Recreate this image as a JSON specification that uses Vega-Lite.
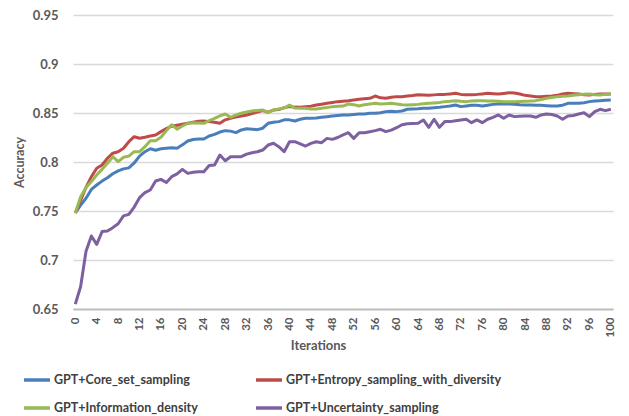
{
  "$schema": "https://vega.github.io/schema/vega-lite/v6.json",
  "autosize": {"type": "none"},
  "width": 540,
  "height": 294,
  "padding": {"left": 73, "top": 15, "right": 16, "bottom": 107},
  "background": "white",
  "config": {
    "view": {"stroke": null},
    "font": "Lato",
    "axis": {"labelFont": "Lato", "titleFont": "Lato", "labelColor": "#595959", "titleColor": "#595959", "labelFontWeight": "bold", "titleFontWeight": "bold"}
  },
  "data": {"values": [
{"it":0,"GPT+Core_set_sampling":0.748,"GPT+Entropy_sampling_with_diversity":0.748,"GPT+Information_density":0.748,"GPT+Uncertainty_sampling":0.655},
{"it":1,"GPT+Core_set_sampling":0.756,"GPT+Entropy_sampling_with_diversity":0.761,"GPT+Information_density":0.7646,"GPT+Uncertainty_sampling":0.673},
{"it":2,"GPT+Core_set_sampling":0.763,"GPT+Entropy_sampling_with_diversity":0.774,"GPT+Information_density":0.774,"GPT+Uncertainty_sampling":0.709},
{"it":3,"GPT+Core_set_sampling":0.772,"GPT+Entropy_sampling_with_diversity":0.785,"GPT+Information_density":0.78,"GPT+Uncertainty_sampling":0.7245},
{"it":4,"GPT+Core_set_sampling":0.7765,"GPT+Entropy_sampling_with_diversity":0.7936,"GPT+Information_density":0.7867,"GPT+Uncertainty_sampling":0.716},
{"it":5,"GPT+Core_set_sampling":0.7805,"GPT+Entropy_sampling_with_diversity":0.797,"GPT+Information_density":0.7925,"GPT+Uncertainty_sampling":0.729},
{"it":6,"GPT+Core_set_sampling":0.784,"GPT+Entropy_sampling_with_diversity":0.8038,"GPT+Information_density":0.7987,"GPT+Uncertainty_sampling":0.7296},
{"it":7,"GPT+Core_set_sampling":0.788,"GPT+Entropy_sampling_with_diversity":0.809,"GPT+Information_density":0.8054,"GPT+Uncertainty_sampling":0.733},
{"it":8,"GPT+Core_set_sampling":0.791,"GPT+Entropy_sampling_with_diversity":0.8105,"GPT+Information_density":0.8003,"GPT+Uncertainty_sampling":0.737},
{"it":9,"GPT+Core_set_sampling":0.793,"GPT+Entropy_sampling_with_diversity":0.814,"GPT+Information_density":0.8048,"GPT+Uncertainty_sampling":0.745},
{"it":10,"GPT+Core_set_sampling":0.794,"GPT+Entropy_sampling_with_diversity":0.8207,"GPT+Information_density":0.806,"GPT+Uncertainty_sampling":0.7466},
{"it":11,"GPT+Core_set_sampling":0.799,"GPT+Entropy_sampling_with_diversity":0.8258,"GPT+Information_density":0.8105,"GPT+Uncertainty_sampling":0.754},
{"it":12,"GPT+Core_set_sampling":0.806,"GPT+Entropy_sampling_with_diversity":0.8242,"GPT+Information_density":0.8105,"GPT+Uncertainty_sampling":0.7636},
{"it":13,"GPT+Core_set_sampling":0.8105,"GPT+Entropy_sampling_with_diversity":0.8252,"GPT+Information_density":0.8156,"GPT+Uncertainty_sampling":0.7687},
{"it":14,"GPT+Core_set_sampling":0.8135,"GPT+Entropy_sampling_with_diversity":0.8265,"GPT+Information_density":0.8217,"GPT+Uncertainty_sampling":0.7714},
{"it":15,"GPT+Core_set_sampling":0.812,"GPT+Entropy_sampling_with_diversity":0.8276,"GPT+Information_density":0.8217,"GPT+Uncertainty_sampling":0.7806},
{"it":16,"GPT+Core_set_sampling":0.8135,"GPT+Entropy_sampling_with_diversity":0.831,"GPT+Information_density":0.8252,"GPT+Uncertainty_sampling":0.7823},
{"it":17,"GPT+Core_set_sampling":0.814,"GPT+Entropy_sampling_with_diversity":0.834,"GPT+Information_density":0.832,"GPT+Uncertainty_sampling":0.779},
{"it":18,"GPT+Core_set_sampling":0.8145,"GPT+Entropy_sampling_with_diversity":0.8365,"GPT+Information_density":0.838,"GPT+Uncertainty_sampling":0.785},
{"it":19,"GPT+Core_set_sampling":0.814,"GPT+Entropy_sampling_with_diversity":0.8375,"GPT+Information_density":0.8335,"GPT+Uncertainty_sampling":0.7878},
{"it":20,"GPT+Core_set_sampling":0.8175,"GPT+Entropy_sampling_with_diversity":0.8385,"GPT+Information_density":0.8367,"GPT+Uncertainty_sampling":0.7925},
{"it":21,"GPT+Core_set_sampling":0.8214,"GPT+Entropy_sampling_with_diversity":0.8395,"GPT+Information_density":0.8395,"GPT+Uncertainty_sampling":0.7884},
{"it":22,"GPT+Core_set_sampling":0.823,"GPT+Entropy_sampling_with_diversity":0.8405,"GPT+Information_density":0.8401,"GPT+Uncertainty_sampling":0.7895},
{"it":23,"GPT+Core_set_sampling":0.8235,"GPT+Entropy_sampling_with_diversity":0.8415,"GPT+Information_density":0.8398,"GPT+Uncertainty_sampling":0.7901},
{"it":24,"GPT+Core_set_sampling":0.8235,"GPT+Entropy_sampling_with_diversity":0.8418,"GPT+Information_density":0.8395,"GPT+Uncertainty_sampling":0.7901},
{"it":25,"GPT+Core_set_sampling":0.8265,"GPT+Entropy_sampling_with_diversity":0.8412,"GPT+Information_density":0.8422,"GPT+Uncertainty_sampling":0.7965},
{"it":26,"GPT+Core_set_sampling":0.8282,"GPT+Entropy_sampling_with_diversity":0.8405,"GPT+Information_density":0.8445,"GPT+Uncertainty_sampling":0.797},
{"it":27,"GPT+Core_set_sampling":0.8306,"GPT+Entropy_sampling_with_diversity":0.8395,"GPT+Information_density":0.847,"GPT+Uncertainty_sampling":0.8071},
{"it":28,"GPT+Core_set_sampling":0.832,"GPT+Entropy_sampling_with_diversity":0.843,"GPT+Information_density":0.849,"GPT+Uncertainty_sampling":0.8013},
{"it":29,"GPT+Core_set_sampling":0.8315,"GPT+Entropy_sampling_with_diversity":0.8445,"GPT+Information_density":0.8456,"GPT+Uncertainty_sampling":0.8054},
{"it":30,"GPT+Core_set_sampling":0.83,"GPT+Entropy_sampling_with_diversity":0.846,"GPT+Information_density":0.848,"GPT+Uncertainty_sampling":0.8054},
{"it":31,"GPT+Core_set_sampling":0.8327,"GPT+Entropy_sampling_with_diversity":0.8469,"GPT+Information_density":0.8497,"GPT+Uncertainty_sampling":0.8054},
{"it":32,"GPT+Core_set_sampling":0.834,"GPT+Entropy_sampling_with_diversity":0.848,"GPT+Information_density":0.851,"GPT+Uncertainty_sampling":0.808},
{"it":33,"GPT+Core_set_sampling":0.8335,"GPT+Entropy_sampling_with_diversity":0.8495,"GPT+Information_density":0.852,"GPT+Uncertainty_sampling":0.8095},
{"it":34,"GPT+Core_set_sampling":0.833,"GPT+Entropy_sampling_with_diversity":0.851,"GPT+Information_density":0.8526,"GPT+Uncertainty_sampling":0.8105},
{"it":35,"GPT+Core_set_sampling":0.8345,"GPT+Entropy_sampling_with_diversity":0.8524,"GPT+Information_density":0.8531,"GPT+Uncertainty_sampling":0.8122},
{"it":36,"GPT+Core_set_sampling":0.8395,"GPT+Entropy_sampling_with_diversity":0.8508,"GPT+Information_density":0.8503,"GPT+Uncertainty_sampling":0.8173},
{"it":37,"GPT+Core_set_sampling":0.8405,"GPT+Entropy_sampling_with_diversity":0.853,"GPT+Information_density":0.8531,"GPT+Uncertainty_sampling":0.8191},
{"it":38,"GPT+Core_set_sampling":0.8412,"GPT+Entropy_sampling_with_diversity":0.8535,"GPT+Information_density":0.854,"GPT+Uncertainty_sampling":0.8156},
{"it":39,"GPT+Core_set_sampling":0.843,"GPT+Entropy_sampling_with_diversity":0.8555,"GPT+Information_density":0.855,"GPT+Uncertainty_sampling":0.8105},
{"it":40,"GPT+Core_set_sampling":0.843,"GPT+Entropy_sampling_with_diversity":0.8565,"GPT+Information_density":0.858,"GPT+Uncertainty_sampling":0.8207},
{"it":41,"GPT+Core_set_sampling":0.8418,"GPT+Entropy_sampling_with_diversity":0.856,"GPT+Information_density":0.855,"GPT+Uncertainty_sampling":0.8207},
{"it":42,"GPT+Core_set_sampling":0.8436,"GPT+Entropy_sampling_with_diversity":0.8558,"GPT+Information_density":0.8548,"GPT+Uncertainty_sampling":0.8185},
{"it":43,"GPT+Core_set_sampling":0.8446,"GPT+Entropy_sampling_with_diversity":0.8565,"GPT+Information_density":0.8548,"GPT+Uncertainty_sampling":0.8163},
{"it":44,"GPT+Core_set_sampling":0.8446,"GPT+Entropy_sampling_with_diversity":0.857,"GPT+Information_density":0.854,"GPT+Uncertainty_sampling":0.819},
{"it":45,"GPT+Core_set_sampling":0.845,"GPT+Entropy_sampling_with_diversity":0.8582,"GPT+Information_density":0.8542,"GPT+Uncertainty_sampling":0.8207},
{"it":46,"GPT+Core_set_sampling":0.8456,"GPT+Entropy_sampling_with_diversity":0.859,"GPT+Information_density":0.8548,"GPT+Uncertainty_sampling":0.8197},
{"it":47,"GPT+Core_set_sampling":0.8462,"GPT+Entropy_sampling_with_diversity":0.8599,"GPT+Information_density":0.8555,"GPT+Uncertainty_sampling":0.8241},
{"it":48,"GPT+Core_set_sampling":0.8469,"GPT+Entropy_sampling_with_diversity":0.8607,"GPT+Information_density":0.8565,"GPT+Uncertainty_sampling":0.8231},
{"it":49,"GPT+Core_set_sampling":0.8475,"GPT+Entropy_sampling_with_diversity":0.8616,"GPT+Information_density":0.8568,"GPT+Uncertainty_sampling":0.825},
{"it":50,"GPT+Core_set_sampling":0.848,"GPT+Entropy_sampling_with_diversity":0.8621,"GPT+Information_density":0.8571,"GPT+Uncertainty_sampling":0.8276},
{"it":51,"GPT+Core_set_sampling":0.848,"GPT+Entropy_sampling_with_diversity":0.8626,"GPT+Information_density":0.8592,"GPT+Uncertainty_sampling":0.8299},
{"it":52,"GPT+Core_set_sampling":0.8485,"GPT+Entropy_sampling_with_diversity":0.8633,"GPT+Information_density":0.8585,"GPT+Uncertainty_sampling":0.8241},
{"it":53,"GPT+Core_set_sampling":0.849,"GPT+Entropy_sampling_with_diversity":0.864,"GPT+Information_density":0.8571,"GPT+Uncertainty_sampling":0.8299},
{"it":54,"GPT+Core_set_sampling":0.849,"GPT+Entropy_sampling_with_diversity":0.8645,"GPT+Information_density":0.8585,"GPT+Uncertainty_sampling":0.8299},
{"it":55,"GPT+Core_set_sampling":0.8497,"GPT+Entropy_sampling_with_diversity":0.865,"GPT+Information_density":0.8592,"GPT+Uncertainty_sampling":0.8309},
{"it":56,"GPT+Core_set_sampling":0.8497,"GPT+Entropy_sampling_with_diversity":0.8673,"GPT+Information_density":0.8599,"GPT+Uncertainty_sampling":0.832},
{"it":57,"GPT+Core_set_sampling":0.8503,"GPT+Entropy_sampling_with_diversity":0.8655,"GPT+Information_density":0.8592,"GPT+Uncertainty_sampling":0.8334},
{"it":58,"GPT+Core_set_sampling":0.8514,"GPT+Entropy_sampling_with_diversity":0.865,"GPT+Information_density":0.8595,"GPT+Uncertainty_sampling":0.831},
{"it":59,"GPT+Core_set_sampling":0.8518,"GPT+Entropy_sampling_with_diversity":0.866,"GPT+Information_density":0.8599,"GPT+Uncertainty_sampling":0.8325},
{"it":60,"GPT+Core_set_sampling":0.8514,"GPT+Entropy_sampling_with_diversity":0.8667,"GPT+Information_density":0.8592,"GPT+Uncertainty_sampling":0.835},
{"it":61,"GPT+Core_set_sampling":0.852,"GPT+Entropy_sampling_with_diversity":0.8667,"GPT+Information_density":0.8585,"GPT+Uncertainty_sampling":0.838},
{"it":62,"GPT+Core_set_sampling":0.8538,"GPT+Entropy_sampling_with_diversity":0.8673,"GPT+Information_density":0.8582,"GPT+Uncertainty_sampling":0.839},
{"it":63,"GPT+Core_set_sampling":0.8542,"GPT+Entropy_sampling_with_diversity":0.8678,"GPT+Information_density":0.8585,"GPT+Uncertainty_sampling":0.8392},
{"it":64,"GPT+Core_set_sampling":0.8544,"GPT+Entropy_sampling_with_diversity":0.8687,"GPT+Information_density":0.8588,"GPT+Uncertainty_sampling":0.8395},
{"it":65,"GPT+Core_set_sampling":0.8548,"GPT+Entropy_sampling_with_diversity":0.8684,"GPT+Information_density":0.8595,"GPT+Uncertainty_sampling":0.8429},
{"it":66,"GPT+Core_set_sampling":0.8548,"GPT+Entropy_sampling_with_diversity":0.868,"GPT+Information_density":0.8599,"GPT+Uncertainty_sampling":0.8354},
{"it":67,"GPT+Core_set_sampling":0.8553,"GPT+Entropy_sampling_with_diversity":0.8685,"GPT+Information_density":0.8603,"GPT+Uncertainty_sampling":0.8436},
{"it":68,"GPT+Core_set_sampling":0.8558,"GPT+Entropy_sampling_with_diversity":0.869,"GPT+Information_density":0.8608,"GPT+Uncertainty_sampling":0.8354},
{"it":69,"GPT+Core_set_sampling":0.8565,"GPT+Entropy_sampling_with_diversity":0.869,"GPT+Information_density":0.8616,"GPT+Uncertainty_sampling":0.8412},
{"it":70,"GPT+Core_set_sampling":0.8571,"GPT+Entropy_sampling_with_diversity":0.8695,"GPT+Information_density":0.862,"GPT+Uncertainty_sampling":0.8412},
{"it":71,"GPT+Core_set_sampling":0.8582,"GPT+Entropy_sampling_with_diversity":0.8701,"GPT+Information_density":0.8626,"GPT+Uncertainty_sampling":0.842},
{"it":72,"GPT+Core_set_sampling":0.8565,"GPT+Entropy_sampling_with_diversity":0.869,"GPT+Information_density":0.862,"GPT+Uncertainty_sampling":0.8429},
{"it":73,"GPT+Core_set_sampling":0.8572,"GPT+Entropy_sampling_with_diversity":0.8687,"GPT+Information_density":0.8616,"GPT+Uncertainty_sampling":0.8436},
{"it":74,"GPT+Core_set_sampling":0.8578,"GPT+Entropy_sampling_with_diversity":0.8687,"GPT+Information_density":0.8622,"GPT+Uncertainty_sampling":0.8401},
{"it":75,"GPT+Core_set_sampling":0.8578,"GPT+Entropy_sampling_with_diversity":0.869,"GPT+Information_density":0.8626,"GPT+Uncertainty_sampling":0.8429},
{"it":76,"GPT+Core_set_sampling":0.8572,"GPT+Entropy_sampling_with_diversity":0.8695,"GPT+Information_density":0.8624,"GPT+Uncertainty_sampling":0.8401},
{"it":77,"GPT+Core_set_sampling":0.858,"GPT+Entropy_sampling_with_diversity":0.8701,"GPT+Information_density":0.8622,"GPT+Uncertainty_sampling":0.8436},
{"it":78,"GPT+Core_set_sampling":0.8588,"GPT+Entropy_sampling_with_diversity":0.8697,"GPT+Information_density":0.8622,"GPT+Uncertainty_sampling":0.8456},
{"it":79,"GPT+Core_set_sampling":0.8592,"GPT+Entropy_sampling_with_diversity":0.8694,"GPT+Information_density":0.862,"GPT+Uncertainty_sampling":0.848},
{"it":80,"GPT+Core_set_sampling":0.8592,"GPT+Entropy_sampling_with_diversity":0.87,"GPT+Information_density":0.8616,"GPT+Uncertainty_sampling":0.8446},
{"it":81,"GPT+Core_set_sampling":0.8592,"GPT+Entropy_sampling_with_diversity":0.8707,"GPT+Information_density":0.8616,"GPT+Uncertainty_sampling":0.848},
{"it":82,"GPT+Core_set_sampling":0.859,"GPT+Entropy_sampling_with_diversity":0.8705,"GPT+Information_density":0.8616,"GPT+Uncertainty_sampling":0.8463},
{"it":83,"GPT+Core_set_sampling":0.8585,"GPT+Entropy_sampling_with_diversity":0.8694,"GPT+Information_density":0.8618,"GPT+Uncertainty_sampling":0.8466},
{"it":84,"GPT+Core_set_sampling":0.8582,"GPT+Entropy_sampling_with_diversity":0.868,"GPT+Information_density":0.862,"GPT+Uncertainty_sampling":0.8469},
{"it":85,"GPT+Core_set_sampling":0.8582,"GPT+Entropy_sampling_with_diversity":0.8673,"GPT+Information_density":0.8622,"GPT+Uncertainty_sampling":0.8469},
{"it":86,"GPT+Core_set_sampling":0.858,"GPT+Entropy_sampling_with_diversity":0.8667,"GPT+Information_density":0.8626,"GPT+Uncertainty_sampling":0.8456},
{"it":87,"GPT+Core_set_sampling":0.8578,"GPT+Entropy_sampling_with_diversity":0.8667,"GPT+Information_density":0.8638,"GPT+Uncertainty_sampling":0.848},
{"it":88,"GPT+Core_set_sampling":0.8574,"GPT+Entropy_sampling_with_diversity":0.867,"GPT+Information_density":0.865,"GPT+Uncertainty_sampling":0.849},
{"it":89,"GPT+Core_set_sampling":0.8571,"GPT+Entropy_sampling_with_diversity":0.8673,"GPT+Information_density":0.8659,"GPT+Uncertainty_sampling":0.8485},
{"it":90,"GPT+Core_set_sampling":0.8571,"GPT+Entropy_sampling_with_diversity":0.868,"GPT+Information_density":0.8667,"GPT+Uncertainty_sampling":0.8469},
{"it":91,"GPT+Core_set_sampling":0.858,"GPT+Entropy_sampling_with_diversity":0.8695,"GPT+Information_density":0.867,"GPT+Uncertainty_sampling":0.8436},
{"it":92,"GPT+Core_set_sampling":0.8599,"GPT+Entropy_sampling_with_diversity":0.8701,"GPT+Information_density":0.8673,"GPT+Uncertainty_sampling":0.8469},
{"it":93,"GPT+Core_set_sampling":0.8599,"GPT+Entropy_sampling_with_diversity":0.8697,"GPT+Information_density":0.868,"GPT+Uncertainty_sampling":0.8475},
{"it":94,"GPT+Core_set_sampling":0.86,"GPT+Entropy_sampling_with_diversity":0.8694,"GPT+Information_density":0.8686,"GPT+Uncertainty_sampling":0.849},
{"it":95,"GPT+Core_set_sampling":0.8605,"GPT+Entropy_sampling_with_diversity":0.8687,"GPT+Information_density":0.8692,"GPT+Uncertainty_sampling":0.8503},
{"it":96,"GPT+Core_set_sampling":0.8616,"GPT+Entropy_sampling_with_diversity":0.8684,"GPT+Information_density":0.8694,"GPT+Uncertainty_sampling":0.8463},
{"it":97,"GPT+Core_set_sampling":0.8622,"GPT+Entropy_sampling_with_diversity":0.869,"GPT+Information_density":0.8686,"GPT+Uncertainty_sampling":0.8514},
{"it":98,"GPT+Core_set_sampling":0.8626,"GPT+Entropy_sampling_with_diversity":0.8694,"GPT+Information_density":0.8684,"GPT+Uncertainty_sampling":0.8538},
{"it":99,"GPT+Core_set_sampling":0.863,"GPT+Entropy_sampling_with_diversity":0.8694,"GPT+Information_density":0.869,"GPT+Uncertainty_sampling":0.8524},
{"it":100,"GPT+Core_set_sampling":0.8633,"GPT+Entropy_sampling_with_diversity":0.8694,"GPT+Information_density":0.8694,"GPT+Uncertainty_sampling":0.8538}
  ]},
  "transform": [
    {"fold": ["GPT+Core_set_sampling", "GPT+Entropy_sampling_with_diversity", "GPT+Information_density", "GPT+Uncertainty_sampling"], "as": ["series", "acc"]}
  ],
  "mark": {"type": "line", "strokeWidth": 3, "strokeJoin": "round", "strokeCap": "butt"},
  "encoding": {
    "x": {
      "field": "it", "type": "quantitative",
      "scale": {"domain": [-0.43, 100.41], "nice": false, "zero": false},
      "axis": {
        "values": [0,4,8,12,16,20,24,28,32,36,40,44,48,52,56,60,64,68,72,76,80,84,88,92,96,100],
        "labelAngle": -90, "labelAlign": "right", "labelBaseline": "middle",
        "labelFontSize": 11.5, "labelPadding": 8, "ticks": false, "grid": false,
        "domain": true, "domainColor": "#bfbfbf", "domainWidth": 2,
        "title": "Iterations", "titleFontSize": 13,
        "titleX": 245, "titleY": 36, "titleAlign": "center", "titleBaseline": "middle",
        "labelOverlap": false
      }
    },
    "y": {
      "field": "acc", "type": "quantitative",
      "scale": {"domain": [0.65, 0.95], "nice": false, "zero": false},
      "axis": {
        "values": [0.65,0.7,0.75,0.8,0.85,0.9,0.95],
        "labelExpr": "format(datum.value, '.2~f')",
        "labelFontSize": 13, "labelPadding": 15, "ticks": false, "domain": false,
        "grid": true, "gridColor": "#d9d9d9", "gridWidth": 1.5,
        "title": "Accuracy", "titleFontSize": 12.5, "titleAngle": -90,
        "titleX": -54, "titleY": 147, "titleAlign": "center", "titleBaseline": "middle"
      }
    },
    "color": {
      "field": "series", "type": "nominal",
      "scale": {
        "domain": ["GPT+Core_set_sampling", "GPT+Entropy_sampling_with_diversity", "GPT+Information_density", "GPT+Uncertainty_sampling"],
        "range": ["#4A7EBB", "#BE4B48", "#98B954", "#7D60A0"]
      },
      "legend": {
        "title": null, "orient": "none", "legendX": -51, "legendY": 350,
        "direction": "horizontal", "columns": 2, "columnPadding": 51, "rowPadding": 6,
        "symbolType": "stroke", "symbolSize": 676, "symbolStrokeWidth": 3.5,
        "labelFont": "Lato", "labelFontSize": 12.5, "labelFontWeight": "bold", "labelColor": "#404040",
        "labelOffset": 2, "labelLimit": 0, "padding": 0
      }
    }
  }
}
